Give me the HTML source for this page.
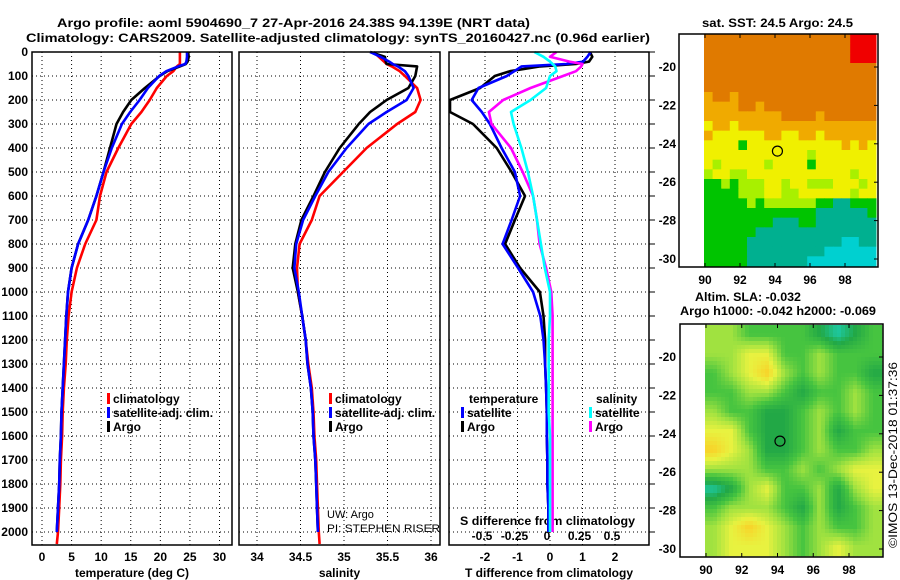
<!DOCTYPE html>
<html><head><meta charset="utf-8"><style>
html,body{margin:0;padding:0;background:#fff;}
svg{display:block;font-family:"Liberation Sans",Arial,sans-serif;}
.b{font-weight:bold;font-size:12px;}
</style></head><body>
<svg id="c" width="900" height="580" viewBox="0 0 900 580" xmlns="http://www.w3.org/2000/svg">
<rect width="900" height="580" fill="#fff"/>
<text class="b" x="57" y="27" font-size="13" textLength="473" lengthAdjust="spacingAndGlyphs">Argo profile: aoml 5904690_7 27-Apr-2016 24.38S 94.139E (NRT data)</text>
<text class="b" x="26" y="42" font-size="13" textLength="624" lengthAdjust="spacingAndGlyphs">Climatology: CARS2009. Satellite-adjusted climatology: synTS_20160427.nc (0.96d earlier)</text>
<text class="b" x="702" y="27" textLength="151" lengthAdjust="spacingAndGlyphs">sat. SST: 24.5 Argo: 24.5</text>
<g id="plots"></g>
<g id="maps"></g>
<text class="b" x="695" y="301" textLength="106" lengthAdjust="spacingAndGlyphs">Altim. SLA: -0.032</text>
<text class="b" x="680" y="315" textLength="196" lengthAdjust="spacingAndGlyphs">Argo h1000: -0.042 h2000: -0.069</text>
<text x="897" y="548" font-size="12" transform="rotate(-90 897 548)" textLength="186" lengthAdjust="spacingAndGlyphs">©IMOS 13-Dec-2018 01:37:36</text>
<text x="327" y="518" font-size="11">UW: Argo</text>
<text x="327" y="532" font-size="11" textLength="113" lengthAdjust="spacingAndGlyphs">PI: STEPHEN RISER</text>
</svg>
<script>
// ---- profile data ----
const depths = [0,20,40,50,60,80,100,150,200,250,300,400,500,600,700,800,900,1000,1100,1200,1300,1400,1500,1600,1700,1800,1900,2000,2050];
const argoTemp = [24.7,24.8,24.6,24.3,23.3,21.2,19.9,17.4,15.1,13.7,12.6,11.5,10.4,9.2,7.8,6.1,5.0,4.4,4.1,3.9,3.7,3.5,3.3,3.2,3.0,2.9,2.7,2.5,null];
const satTemp = [24.5,24.5,24.4,24.2,23.0,21.0,19.8,17.9,16.5,14.9,13.5,11.8,10.4,9.2,7.8,6.1,5.0,4.4,4.1,3.9,3.7,3.5,3.3,3.2,3.0,2.9,2.7,2.5,null];
const climTemp = [23.3,23.3,23.3,23.3,22.8,22.2,21.1,19.4,18.2,16.8,15.1,12.9,10.9,9.8,9.2,7.3,5.9,5.0,4.5,4.2,4.0,3.7,3.5,3.4,3.2,3.1,2.9,2.7,2.5];
const argoSal = [35.30,35.47,35.48,35.49,35.84,35.83,35.82,35.74,35.49,35.30,35.17,34.95,34.78,34.65,34.51,34.44,34.41,34.47,34.52,34.56,34.58,34.62,34.64,34.65,34.67,34.68,34.69,34.70,null];
const satSal = [35.30,35.42,35.52,35.56,35.62,35.70,35.74,35.80,35.72,35.49,35.28,35.03,34.82,34.67,34.53,34.45,34.43,34.48,34.52,34.56,34.58,34.62,34.64,34.65,34.67,34.68,34.69,34.70,null];
const climSal = [35.34,35.40,35.46,35.49,35.55,35.64,35.70,35.84,35.88,35.82,35.61,35.26,34.99,34.72,34.63,34.49,34.46,34.47,34.52,34.56,34.59,34.63,34.65,34.66,34.68,34.69,34.70,34.71,34.72];
const argoTdiff = [1.23,1.3,1.2,0.8,-0.3,-1.23,-1.7,-2.15,-3.08,-3.1,-2.37,-1.64,-1.18,-0.77,-1.08,-1.38,-0.92,-0.31,-0.2,-0.15,-0.15,-0.12,-0.1,-0.1,-0.08,-0.08,-0.05,-0.05,null];
const satTdiff = [1.25,1.15,1.02,0.5,-0.87,-1.1,-1.33,-2.2,-2.41,-2.1,-1.85,-1.49,-1.08,-0.92,-1.18,-1.46,-0.98,-0.52,-0.3,-0.2,-0.15,-0.12,-0.1,-0.1,-0.08,-0.08,-0.05,-0.05,null];
const argoSdiff = [0.05,0.0,0.15,0.25,0.24,0.2,0.1,-0.15,-0.36,-0.47,-0.45,-0.3,-0.21,-0.13,-0.1,-0.08,-0.03,0.01,0.02,0.02,0.02,0.02,0.02,0.02,0.02,0.02,0.02,0.02,null];
const satSdiff = [-0.12,-0.05,0.0,0.02,0.04,0.05,0.0,-0.03,-0.15,-0.3,-0.28,-0.22,-0.17,-0.13,-0.1,-0.07,-0.04,0.0,0.0,-0.01,-0.01,-0.01,-0.01,0,0,0,0,0,null];
const depthTicks = [0,100,200,300,400,500,600,700,800,900,1000,1100,1200,1300,1400,1500,1600,1700,1800,1900,2000];
const tempTicks = [0,5,10,15,20,25,30];
const salTicks = [34,34.5,35,35.5,36];
const salTickLabels = ["34","34.5","35","35.5","36"];
const tdiffTicks = [-2,-1,0,1,2];
const sdiffTicks = [-0.5,-0.25,0,0.25,0.5];
const sdiffTickLabels = ["-0.5","-0.25","0","0.25","0.5"];

// ---- SST map data (rows north->south, cols west->east) ----
const sstRows = [
"ooooooooooooooooorrr","ooooooooooooooooorrr","ooooooooooooooooorrr",
"oooooooooooooooooooo","oooooooooooooooooooo","oooooooooooooooooooo",
"aooaoooooooooooooooo","aaaaooaooooooooooooo","aaaaaaaaaooooaoooooo",
"yaayaaaaaaaaaaaaaaaa","ayyyyyyaayyaayaaaaaa","yyyygyyyyyyyyyyyayay",
"yyyyyyyyyyyylyyyyyyy","ylyyyyylyyyygyyyyyyy","lyyllyyyyyyyyyyyylyy",
"gglglllyylyylllyyyly","gggglllyyllyyyyyylyy","ggggglgllllllggttggg",
"gggggggggggggttttttg","ggggggggtttggttttttt","ggggggtttttttttttttt",
"gggggtttttttttttcctt","gggggtttttttttcccccc","gggggtttttttcccccccc"];
const sstColors = {r:"#f00000",o:"#e07a00",a:"#f0aa00",y:"#f0f000",l:"#a8f000",g:"#00c400",t:"#00b090",c:"#00d0d0"};
// ---- SLA map data (12 rows x 10 cols, 0..5) ----
const slaGrid = [
[3,3,2,2,2,2,1,0,1,2],[3,3,4,4,2,2,3,2,2,2],[2,3,4,5,3,2,3,2,2,1],
[2,2,3,3,2,1,2,2,3,2],[3,2,2,1,1,2,3,2,3,2],[4,4,2,1,1,2,3,1,2,2],
[5,4,3,1,1,2,3,2,2,3],[3,3,3,2,2,3,2,3,4,4],[0,1,3,4,2,2,3,1,3,4],
[2,3,3,3,2,1,3,1,2,3],[3,4,5,4,3,2,3,2,2,3],[3,4,4,4,3,2,3,4,3,3]];
const mapLonTicks = [90,92,94,96,98];
const mapLatTicks = [-20,-22,-24,-26,-28,-30];
const argoLon = 94.139, argoLat = -24.38;

const NS = "http://www.w3.org/2000/svg";
function mk(tag, attrs, parent){const e=document.createElementNS(NS,tag);for(const k in attrs)e.setAttribute(k,attrs[k]);parent.appendChild(e);return e;}
const plots = document.getElementById('plots');
const yD = d => 52 + d*0.24;
const TOP=52, BOT=545;
function lin(v0,p0,v1,p1){return v=>p0+(v-v0)*(p1-p0)/(v1-v0);}
const xT = lin(0,42,30,219.5);
const xS = lin(34,257,36,431);
const xTd = lin(0,550,2,615);
const xSd = lin(0,550,0.5,615);
const panels = [
 {x0:32,x1:232,name:'temperature-panel',ticks:tempTicks,labels:tempTicks.map(String),sc:xT,title:'temperature (deg C)'},
 {x0:239,x1:440,name:'salinity-panel',ticks:salTicks,labels:salTickLabels,sc:xS,title:'salinity'},
 {x0:449,x1:649,name:'difference-panel',ticks:tdiffTicks,labels:tdiffTicks.map(String),sc:xTd,title:'T difference from climatology'}];

panels.forEach(p=>{
  const g = mk('g',{},plots);
  
  
  depthTicks.forEach(d=>{
    const l = mk('line',{x1:p.x0,x2:p.x1,y1:yD(d),y2:yD(d),stroke:'#000','stroke-width':1,'stroke-dasharray':'1,3'},g);
    
    
  });
  p.ticks.forEach((t,i)=>{
    const x = p.sc(t);
    const l = mk('line',{x1:x,x2:x,y1:TOP,y2:BOT,stroke:'#000','stroke-width':1,'stroke-dasharray':'1,3'},g);
    
    
    const tx = mk('text',{x:x,y:561,'text-anchor':'middle',class:'b'},g);
    tx.textContent = p.labels[i];
    
    
  });
  const at = mk('text',{x:(p.x0+p.x1)/2,y:577,'text-anchor':'middle',class:'b'},g);
  at.textContent = p.title;
  
  
});
// depth labels
depthTicks.forEach(d=>{
  const t = mk('text',{x:28,y:yD(d)+4,'text-anchor':'end',class:'b'},plots);
  t.textContent = String(d);
  
  
  const tk = mk('line',{x1:649,x2:655,y1:yD(d),y2:yD(d),stroke:'#000','stroke-width':1},plots);
  
  
});
// S diff tick labels
sdiffTicks.forEach((t,i)=>{
  const tx = mk('text',{x:xSd(t)-3,y:540,'text-anchor':'middle',class:'b'},plots);
  tx.textContent = sdiffTickLabels[i];
  
  
});
const sdt = mk('text',{x:460,y:525,class:'b',textLength:175,lengthAdjust:'spacingAndGlyphs'},plots);
sdt.textContent = 'S difference from climatology';



function series(vals, sc, color, name, x0, x1){
  let d='';let pen=false;
  vals.forEach((v,i)=>{
    if(v===null){pen=false;return;}
    let x = Math.max(x0+1, Math.min(x1-1, sc(v)));
    d += (pen?'L':'M') + x.toFixed(1) + ',' + yD(depths[i]).toFixed(1);
    pen=true;
  });
  const p = mk('path',{d:d,fill:'none',stroke:color,'stroke-width':2.6,'stroke-linejoin':'round'},plots);
  
  
}
series(climTemp,xT,'#ff0000','temp-climatology-line',32,232);
series(argoTemp,xT,'#000','temp-argo-line',32,232);
series(satTemp,xT,'#0000ff','temp-satellite-line',32,232);
series(climSal,xS,'#ff0000','sal-climatology-line',239,440);
series(argoSal,xS,'#000','sal-argo-line',239,440);
series(satSal,xS,'#0000ff','sal-satellite-line',239,440);
series(argoTdiff,xTd,'#000','tdiff-argo-line',449,649);
series(satTdiff,xTd,'#0000ff','tdiff-satellite-line',449,649);
series(argoSdiff,xSd,'#ff00ff','sdiff-argo-line',449,649);
series(satSdiff,xSd,'#00ffff','sdiff-satellite-line',449,649);

panels.forEach(p=>{
  const r = mk('rect',{x:p.x0,y:TOP,width:p.x1-p.x0,height:BOT-TOP,fill:'none',stroke:'#000','stroke-width':1.5},plots);
  
  
});

function legend(x, y, color, label, name){
  const m = mk('rect',{x:x,y:y-10,width:3,height:11,fill:color},plots);
  
  
  const t = mk('text',{x:x+6,y:y,class:'b'},plots);
  t.textContent = label;
  
  
}
legend(107,403,'#ff0000','climatology','legend-entry-climatology');
legend(107,417,'#0000ff','satellite-adj. clim.','legend-entry-satellite');
legend(107,431,'#000','Argo','legend-entry-argo');
legend(329,403,'#ff0000','climatology','legend-entry-climatology-sal');
legend(329,417,'#0000ff','satellite-adj. clim.','legend-entry-satellite-sal');
legend(329,431,'#000','Argo','legend-entry-argo-sal');
const lt1 = mk('text',{x:469,y:403,class:'b'},plots); lt1.textContent='temperature';


const lt2 = mk('text',{x:596,y:403,class:'b'},plots); lt2.textContent='salinity';


legend(461,417,'#0000ff','satellite','legend-entry-t-satellite');
legend(461,431,'#000','Argo','legend-entry-t-argo');
legend(589,417,'#00ffff','satellite','legend-entry-s-satellite');
legend(589,431,'#ff00ff','Argo','legend-entry-s-argo');

// ---- maps ----
const maps = document.getElementById('maps');
function mapFrame(fx0,fy0,fx1,fy1,lonSc,latSc,name){
  const r = mk('rect',{x:fx0,y:fy0,width:fx1-fx0,height:fy1-fy0,fill:'none',stroke:'#000','stroke-width':1.5},maps);
  
  
  mapLonTicks.forEach(l=>{
    const x = lonSc(l);
    mk('line',{x1:x,x2:x,y1:fy1,y2:fy1-4,stroke:'#000'},maps);
    mk('line',{x1:x,x2:x,y1:fy0,y2:fy0+4,stroke:'#000'},maps);
    const t = mk('text',{x:x,y:fy1+17,'text-anchor':'middle',class:'b'},maps);
    t.textContent = String(l);
    
    
  });
  mapLatTicks.forEach(l=>{
    const y = latSc(l);
    mk('line',{x1:fx1,x2:fx1-4,y1:y,y2:y,stroke:'#000'},maps);
    const t = mk('text',{x:676,y:y+4,'text-anchor':'end',class:'b'},maps);
    t.textContent = String(l);
    
    
  });
  const c = mk('circle',{cx:lonSc(argoLon),cy:latSc(argoLat),r:5,fill:'none',stroke:'#000','stroke-width':1.2},maps);
  
  
}
// SST map
(function(){
  const x0=704,x1=876,y0=34,y1=266;
  const g = mk('g',{},maps);
  
  
  const nr=sstRows.length, nc=sstRows[0].length;
  const cw=(x1-x0)/nc, ch=(y1-y0)/nr;
  sstRows.forEach((row,i)=>{
    for(let j=0;j<nc;j++){
      mk('rect',{x:(x0+j*cw).toFixed(2),y:(y0+i*ch).toFixed(2),width:(cw+0.5).toFixed(2),height:(ch+0.5).toFixed(2),fill:sstColors[row[j]]},g);
    }
  });
  const lonSc = lin(90,705,98,845), latSc = lin(-20,67,-30,259);
  mapFrame(679,34,878,267,lonSc,latSc,'sst-map');
})();
// SLA map
(function(){
  const x0=705,x1=882,y0=325,y1=556;
  const g = mk('g',{},maps);
  
  
  const pal=[[30,200,160],[34,168,70],[70,196,64],[160,226,64],[232,242,64],[248,210,40]];
  const nr=slaGrid.length, nc=slaGrid[0].length, px=4;
  for(let y=y0;y<y1;y+=px){
    for(let x=x0;x<x1;x+=px){
      const fr=Math.min(nr-1,Math.max(0,(y+px/2-y0)/(y1-y0)*nr-0.5));
      const fc=Math.min(nc-1,Math.max(0,(x+px/2-x0)/(x1-x0)*nc-0.5));
      const r0=Math.floor(fr), c0=Math.floor(fc), r1=Math.min(nr-1,r0+1), c1=Math.min(nc-1,c0+1);
      const a=fr-r0, b=fc-c0;
      const v=slaGrid[r0][c0]*(1-a)*(1-b)+slaGrid[r0][c1]*(1-a)*b+slaGrid[r1][c0]*a*(1-b)+slaGrid[r1][c1]*a*b;
      const k=Math.min(4,Math.floor(v)), f=Math.min(1,v-k);
      const col=pal[k].map((q,i)=>Math.round(q+(pal[k+1][i]-q)*f));
      mk('rect',{x:x,y:y,width:Math.min(px,x1-x)+0.3,height:Math.min(px,y1-y)+0.3,fill:'rgb('+col.join(',')+')'},g);
    }
  }
  const lonSc = lin(90,706,98,849), latSc = lin(-20,357,-30,549);
  mapFrame(680,324,883,557,lonSc,latSc,'sla-map');
})();
</script>
</body></html>
